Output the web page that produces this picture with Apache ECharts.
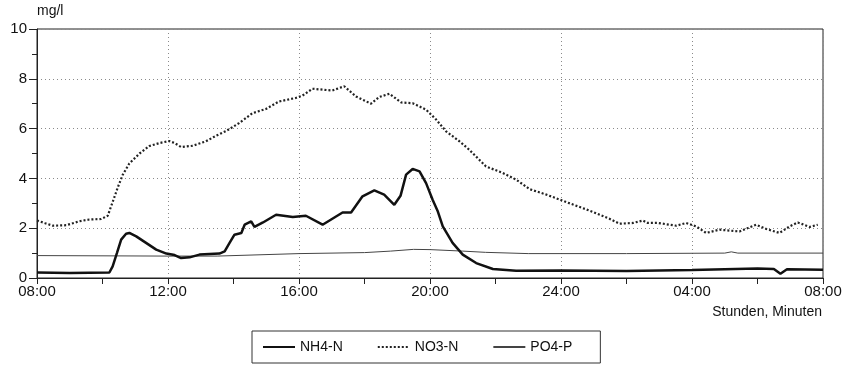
<!DOCTYPE html>
<html>
<head>
<meta charset="utf-8">
<script src="https://cdn.jsdelivr.net/npm/echarts@6/dist/echarts.min.js"></script>
<style>
  html, body { margin: 0; padding: 0; background: #fff; }
  #chart { width: 852px; height: 366px; }
</style>
</head>
<body>
<div id="chart"></div>
<script>
// hours after 08:00 (0..24)
const hourTicks = ["08:00", "12:00", "16:00", "20:00", "24:00", "04:00", "08:00"];

const nh4Hours = [0, 1.0, 2.21, 2.31, 2.44, 2.57, 2.72, 2.82, 3.03, 3.33, 3.64, 3.95, 4.2, 4.4, 4.66, 4.96,
  5.57, 5.73, 5.88, 6.03, 6.24, 6.34, 6.54, 6.64, 6.9, 7.3, 7.81, 8.21, 8.72, 9.33, 9.59, 9.94,
  10.3, 10.6, 10.91, 11.1, 11.27, 11.47, 11.68, 11.88, 12.08, 12.24, 12.39, 12.69, 13.0, 13.41,
  13.92, 14.63, 16, 18, 20, 21, 22, 22.5, 22.7, 22.9, 24];
const nh4Values = [0.22, 0.2, 0.22, 0.47, 1.0, 1.54, 1.78, 1.81, 1.67, 1.41, 1.14, 0.98, 0.92, 0.8, 0.83, 0.94,
  0.98, 1.07, 1.41, 1.74, 1.81, 2.14, 2.27, 2.05, 2.23, 2.54, 2.45, 2.5, 2.14, 2.63, 2.63, 3.28,
  3.52, 3.35, 2.94, 3.3, 4.15, 4.38, 4.28, 3.81, 3.14, 2.67, 2.07, 1.41, 0.94, 0.6,
  0.36, 0.29, 0.3, 0.28, 0.32, 0.35, 0.38, 0.36, 0.17, 0.35, 0.33];

const no3Hours = [0, 0.25, 0.48, 0.89, 1.3, 1.6, 1.96, 2.16, 2.31, 2.47, 2.62, 2.82, 3.13, 3.43, 3.74, 4.04,
  4.2, 4.4, 4.75, 5.16, 5.46, 5.77, 6.17, 6.58, 6.99, 7.39, 7.9, 8.1, 8.41, 9.02, 9.38, 9.74,
  10.2, 10.45, 10.76, 11.12, 11.47, 11.88, 12.19, 12.49, 12.9, 13.2, 13.71, 14.22, 14.63, 15.04,
  15.55, 16.1, 16.66, 17.07, 17.48, 17.79, 18.2, 18.5, 18.65, 18.96, 19.52, 19.82, 20.13, 20.43,
  20.84, 21.45, 21.96, 22.27, 22.67, 22.98, 23.23, 23.59, 23.84];
const no3Values = [2.31, 2.2, 2.1, 2.12, 2.28, 2.35, 2.37, 2.5, 3.05, 3.65, 4.15, 4.6, 5.0, 5.3, 5.42, 5.5,
  5.42, 5.26, 5.31, 5.49, 5.71, 5.9, 6.22, 6.62, 6.79, 7.09, 7.23, 7.32, 7.6, 7.53, 7.7, 7.29,
  7.0, 7.27, 7.4, 7.05, 7.02, 6.76, 6.36, 5.89, 5.49, 5.15, 4.48, 4.22, 3.95, 3.57,
  3.35, 3.08, 2.81, 2.6, 2.38, 2.18, 2.21, 2.31, 2.21, 2.21, 2.1, 2.21, 2.07, 1.81,
  1.94, 1.87, 2.14, 1.97, 1.81, 2.07, 2.23, 2.05, 2.14];

const po4Hours = [0, 4, 5.5, 8, 10, 10.8, 11.5, 12, 13, 13.7, 15, 18, 21, 21.2, 21.4, 24];
const po4Values = [0.9, 0.88, 0.88, 0.98, 1.02, 1.08, 1.15, 1.14, 1.08, 1.03, 0.98, 0.98, 1.0, 1.05, 1.0, 1.0];

const zip = (xs, ys) => xs.map((x, i) => [x, ys[i]]);

const font = "'Liberation Sans', Arial, sans-serif";
const gridDots = { type: [1, 3], color: "#8a8a8a", width: 1 };

const chart = echarts.init(document.getElementById("chart"));
chart.setOption({
  animation: false,
  textStyle: { fontFamily: font },
  grid: {
    left: 37, right: 29, top: 29, bottom: 88,
    show: true, borderColor: "#222", borderWidth: 1,
  },
  legend: {
    left: 252, top: 331,
    orient: "horizontal",
    borderColor: "#333", borderWidth: 1,
    padding: [9, 28, 9, 10],
    itemWidth: 32, itemHeight: 14, itemGap: 34,
    itemStyle: { opacity: 0 },
    textStyle: { fontSize: 14, color: "#111", fontFamily: font },
    data: ["NH4-N", "NO3-N", "PO4-P"],
  },
  graphic: [
    {
      type: "text", right: 30, top: 305,
      style: { text: "Stunden, Minuten", fontSize: 14, fill: "#111", fontFamily: font },
    },
  ],
  xAxis: {
    type: "value", min: 0, max: 24, interval: 4,
    axisLine: { lineStyle: { color: "#222", width: 1 } },
    axisTick: { show: true, length: 6, lineStyle: { color: "#222" } },
    minorTick: { show: true, splitNumber: 2, length: 6, lineStyle: { color: "#222" } },
    axisLabel: {
      color: "#111", fontSize: 15, margin: 6,
      formatter: (v) => hourTicks[Math.round(v / 4)],
    },
    splitLine: { show: true, lineStyle: gridDots },
  },
  yAxis: {
    type: "value", min: 0, max: 10, interval: 2,
    name: "mg/l",
    nameLocation: "end", nameGap: 11,
    nameTextStyle: { fontSize: 14, color: "#111", align: "left" },
    axisLine: { show: true, lineStyle: { color: "#222", width: 1 } },
    axisTick: { show: true, length: 8, lineStyle: { color: "#222" } },
    minorTick: { show: true, splitNumber: 2, length: 5, lineStyle: { color: "#222" } },
    axisLabel: { color: "#111", fontSize: 15, margin: 10 },
    splitLine: { show: true, lineStyle: gridDots },
  },
  series: [
    {
      name: "NH4-N", type: "line", symbol: "none",
      data: zip(nh4Hours, nh4Values),
      lineStyle: { color: "#111", width: 2.5 },
      itemStyle: { color: "#111" },
      z: 4,
    },
    {
      name: "NO3-N", type: "line", symbol: "none",
      data: zip(no3Hours, no3Values),
      lineStyle: { color: "#222", width: 2.2, type: [2, 2] },
      itemStyle: { color: "#222" },
      z: 3,
    },
    {
      name: "PO4-P", type: "line", symbol: "none",
      data: zip(po4Hours, po4Values),
      lineStyle: { color: "#444", width: 1 },
      itemStyle: { color: "#444" },
      z: 2,
    },
  ],
});
</script>
</body>
</html>
